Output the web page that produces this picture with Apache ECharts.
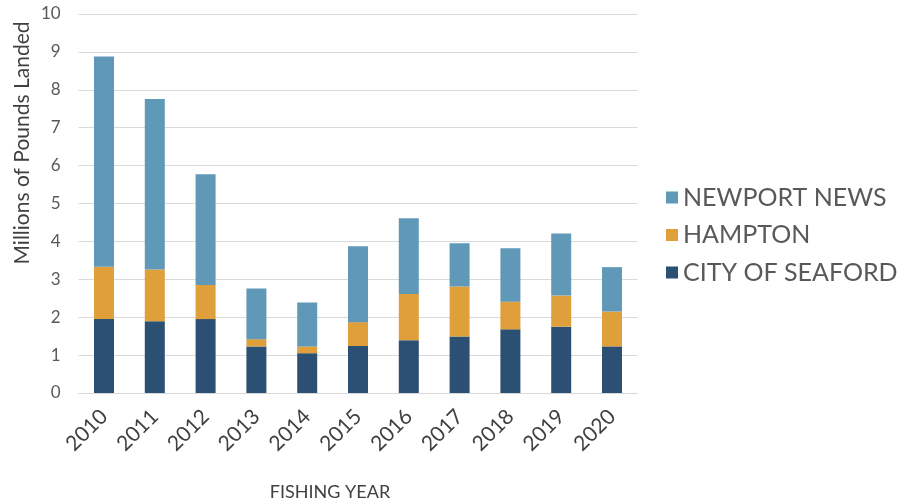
<!DOCTYPE html>
<html>
<head>
<meta charset="utf-8">
<script src="https://cdn.jsdelivr.net/npm/echarts@6/dist/echarts.min.js"></script>
<style>
html,body{margin:0;padding:0;background:#fff;}
#chart{width:902px;height:503px;}
</style>
</head>
<body>
<div id="chart"></div>
<script>
var years = ['2010','2011','2012','2013','2014','2015','2016','2017','2018','2019','2020'];
var seaford = [1.95, 1.89, 1.95, 1.23, 1.05, 1.24, 1.39, 1.49, 1.68, 1.75, 1.23];
var hampton = [1.38, 1.37, 0.90, 0.19, 0.18, 0.63, 1.22, 1.32, 0.73, 0.82, 0.92];
var newportNews = [5.55, 4.50, 2.92, 1.34, 1.16, 2.00, 2.00, 1.14, 1.41, 1.64, 1.17];
var yTicks = [0, 10, 1];

var FONT = 'Lato, "Open Sans", sans-serif';
var chart = echarts.init(document.getElementById('chart'));
chart.setOption({
  animation: false,
  backgroundColor: '#ffffff',
  grid: {left: 78.6, right: 264.6, top: 14, bottom: 110, containLabel: false},
  legend: {
    orient: 'vertical',
    left: 661,
    top: 180,
    itemWidth: 12,
    itemHeight: 12,
    itemGap: 12.5,
    icon: 'rect',
    data: ['NEWPORT NEWS', 'HAMPTON', 'CITY OF SEAFORD'],
    textStyle: {fontFamily: FONT, fontSize: 25, color: '#595959', padding: [0, 0, 0, 0]}
  },
  xAxis: {
    type: 'category',
    data: years,
    axisTick: {show: false},
    axisLine: {lineStyle: {color: '#d9d9d9', width: 1}},
    axisLabel: {rotate: 45, fontFamily: FONT, fontSize: 21, color: '#404040', margin: 20, interval: 0}
  },
  yAxis: {
    type: 'value',
    min: yTicks[0],
    max: yTicks[1],
    interval: yTicks[2],
    axisLine: {show: false},
    axisTick: {show: false},
    splitLine: {lineStyle: {color: '#d9d9d9', width: 1}},
    axisLabel: {fontFamily: FONT, fontSize: 17, color: '#595959', margin: 18}
  },
  graphic: [
    {
      type: 'text',
      x: 12, y: 143,
      rotation: Math.PI / 2,
      style: {text: 'Millions of Pounds Landed', fontFamily: FONT, fontSize: 21, fill: '#404040', align: 'center', verticalAlign: 'top'}
    },
    {
      type: 'text',
      x: 330, y: 492,
      style: {text: 'FISHING YEAR', fontFamily: FONT, fontSize: 18, fill: '#404040', align: 'center', verticalAlign: 'middle'}
    }
  ],
  series: [
    {name: 'CITY OF SEAFORD', type: 'bar', stack: 'a', barWidth: 20, data: seaford, itemStyle: {color: '#2c5074'}},
    {name: 'HAMPTON', type: 'bar', stack: 'a', barWidth: 20, data: hampton, itemStyle: {color: '#df9f3b'}},
    {name: 'NEWPORT NEWS', type: 'bar', stack: 'a', barWidth: 20, data: newportNews, itemStyle: {color: '#5f99b7'}}
  ]
});
</script>
</body>
</html>
